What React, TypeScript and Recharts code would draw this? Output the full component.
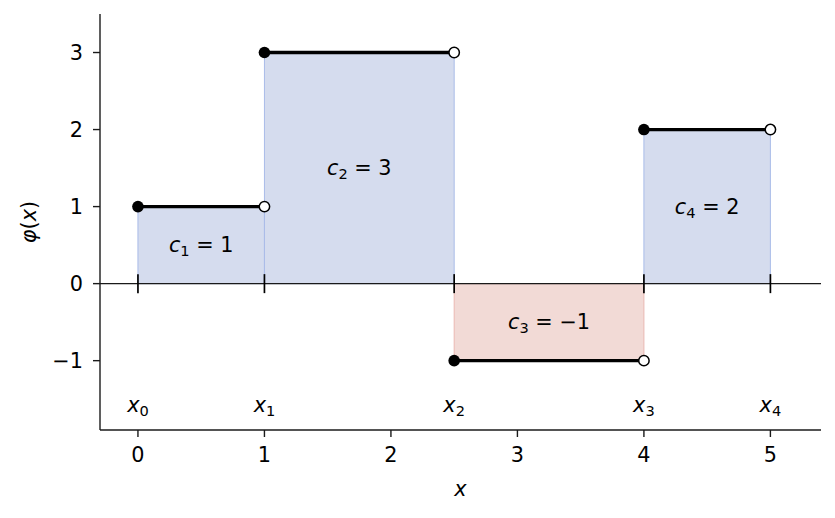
import React from "react";
import {
  ComposedChart,
  XAxis,
  YAxis,
  Line,
  Scatter,
  ReferenceArea,
  ReferenceLine,
  Label,
} from "recharts";

// step function data
const breaks = [0, 1, 2.5, 4, 5];
const levels = [1, 3, -1, 2];
const xTicks = [0, 1, 2, 3, 4, 5];
const yTicks = [-1, 0, 1, 2, 3];
const breakSubs = ["0", "1", "2", "3", "4"];
const levelNames = ["1", "2", "3", "4"];
const levelTexts = ["1", "3", "\u22121", "2"];
const levelLabelX = [0.5, 1.75, 3.25, 4.5];
const levelLabelY = [0.5, 1.5, -0.5, 1.0];
const breakLabelY = -1.57;

const FONT = "DejaVu Sans";
const FS = 20.8;
const SUB = 14.6;

const segments = levels.map((c, i) => [
  { x: breaks[i], y: c },
  { x: breaks[i + 1], y: c },
]);
const closedDots = levels.map((c, i) => ({ x: breaks[i], y: c }));
const openDots = levels.map((c, i) => ({ x: breaks[i + 1], y: c }));
const tickMarks = breaks.map((b) => ({ x: b, y: 0 }));
const breakLabels = breaks.map((b, i) => ({ x: b, y: breakLabelY, sub: breakSubs[i] }));
const levelLabels = levels.map((_, i) => ({
  x: levelLabelX[i],
  y: levelLabelY[i],
  sub: levelNames[i],
  val: levelTexts[i],
}));

const SubText = ({ cx, cy, base, sub, rest }: any) => (
  <text
    x={cx}
    y={cy}
    textAnchor="middle"
    dominantBaseline="central"
    fontFamily={FONT}
    fontSize={FS}
    fill="#000"
  >
    <tspan fontStyle="italic">{base}</tspan>
    <tspan fontSize={SUB} dy={5}>
      {sub}
    </tspan>
    {rest ? <tspan dy={-5}>{rest}</tspan> : null}
  </text>
);

export default function App() {
  return (
    <div style={{ position: "fixed", top: 0, left: 0, width: 835, height: 518, background: "#fff" }}>
      <ComposedChart width={835} height={518} margin={{ top: 14, right: 14, left: 10, bottom: 18 }}>
        <XAxis
          dataKey="x"
          type="number"
          domain={[-0.3, 5.4]}
          allowDataOverflow
          ticks={xTicks}
          height={70}
          tickSize={7}
          tickMargin={10}
          axisLine={{ stroke: "#1a1a1a", strokeWidth: 1.4 }}
          tickLine={{ stroke: "#1a1a1a", strokeWidth: 1.4 }}
          tick={{ fontSize: FS, fill: "#000", fontFamily: FONT }}
        >
          <Label
            content={({ viewBox }: any) => (
              <text
                x={viewBox.x + viewBox.width / 2}
                y={viewBox.y + 66}
                textAnchor="middle"
                fontFamily={FONT}
                fontSize={FS}
                fontStyle="italic"
                fill="#000"
              >
                x
              </text>
            )}
          />
        </XAxis>
        <YAxis
          dataKey="y"
          type="number"
          domain={[-1.9, 3.5]}
          allowDataOverflow
          ticks={yTicks}
          width={90}
          tickSize={7}
          tickMargin={10}
          axisLine={{ stroke: "#1a1a1a", strokeWidth: 1.4 }}
          tickLine={{ stroke: "#1a1a1a", strokeWidth: 1.4 }}
          tick={{ fontSize: FS, fill: "#000", fontFamily: FONT }}
          tickFormatter={(v) => (v < 0 ? `\u2212${Math.abs(v)}` : `${v}`)}
        >
          <Label
            content={({ viewBox }: any) => {
              const x = viewBox.x + 26;
              const y = viewBox.y + viewBox.height / 2;
              return (
                <text
                  x={x}
                  y={y}
                  transform={`rotate(-90, ${x}, ${y})`}
                  textAnchor="middle"
                  fontFamily={FONT}
                  fontSize={FS}
                  fill="#000"
                >
                  <tspan fontStyle="italic">φ</tspan>
                  <tspan>(</tspan>
                  <tspan fontStyle="italic">x</tspan>
                  <tspan>)</tspan>
                </text>
              );
            }}
          />
        </YAxis>

        {levels.map((c, i) => (
          <ReferenceArea
            key={`area-${i}`}
            x1={breaks[i]}
            x2={breaks[i + 1]}
            y1={0}
            y2={c}
            fill={c >= 0 ? "#d5dcee" : "#f2dad6"}
            fillOpacity={1}
            stroke={c >= 0 ? "#a9bce8" : "#eab8b2"}
            strokeWidth={1}
          />
        ))}

        <ReferenceLine y={0} stroke="#1a1a1a" strokeWidth={1.4} />

        <Scatter
          data={tickMarks}
          isAnimationActive={false}
          shape={(p: any) => (
            <line x1={p.cx} x2={p.cx} y1={p.cy - 9.5} y2={p.cy + 9.5} stroke="#000" strokeWidth={1.7} />
          )}
        />

        {segments.map((seg, i) => (
          <Line
            key={`seg-${i}`}
            data={seg}
            dataKey="y"
            type="linear"
            stroke="#000"
            strokeWidth={3.3}
            dot={false}
            activeDot={false}
            isAnimationActive={false}
          />
        ))}

        <Scatter
          data={closedDots}
          isAnimationActive={false}
          shape={(p: any) => <circle cx={p.cx} cy={p.cy} r={5.8} fill="#000" />}
        />
        <Scatter
          data={openDots}
          isAnimationActive={false}
          shape={(p: any) => (
            <circle cx={p.cx} cy={p.cy} r={5.2} fill="#fff" stroke="#000" strokeWidth={1.5} />
          )}
        />

        <Scatter
          data={levelLabels}
          isAnimationActive={false}
          shape={(p: any) => (
            <SubText cx={p.cx} cy={p.cy} base="c" sub={p.payload.sub} rest={` = ${p.payload.val}`} />
          )}
        />
        <Scatter
          data={breakLabels}
          isAnimationActive={false}
          shape={(p: any) => <SubText cx={p.cx} cy={p.cy} base="x" sub={p.payload.sub} />}
        />
      </ComposedChart>
    </div>
  );
}
